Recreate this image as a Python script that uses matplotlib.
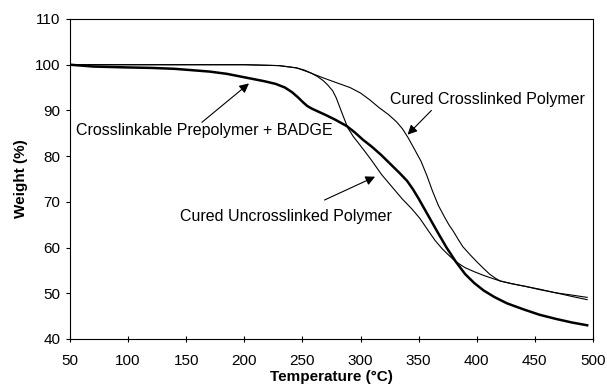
import matplotlib
matplotlib.use("Agg")
import matplotlib.pyplot as plt

plt.rcParams['font.family'] = ['Liberation Sans', 'DejaVu Sans']

# TGA curves
temp_badge = [50, 70, 100, 120, 140, 155, 170, 185, 197, 207, 217, 227, 235, 241, 246, 250,
              254, 258, 264, 270, 278, 288, 295, 302, 310, 318, 326, 334, 340, 345, 350, 358,
              366, 374, 382, 390, 398, 406, 415, 426, 440, 454, 468, 482, 495]
wt_badge = [100, 99.6, 99.4, 99.3, 99.1, 98.8, 98.5, 98.0, 97.4, 96.9, 96.4, 95.8, 95.0,
            94.0, 92.9, 91.9, 91.0, 90.4, 89.7, 89.0, 88.0, 86.6, 85.2, 83.6, 82.0, 80.2,
            78.2, 76.2, 74.6, 72.8, 70.7, 67.1, 63.5, 60.0, 56.9, 54.2, 52.2, 50.6, 49.2,
            47.8, 46.5, 45.3, 44.4, 43.6, 43.0]

temp_uncross = [50, 150, 200, 230, 245, 252, 258, 263, 268, 272, 276, 279, 282, 285, 289,
                294, 299, 305, 310, 318, 328, 336, 344, 351, 358, 364, 370, 376, 382, 390,
                398, 406, 414, 420, 430, 442, 454, 468, 482, 495]
wt_uncross = [100, 100, 100, 99.8, 99.3, 98.8, 98.1, 97.4, 96.5, 95.5, 94.3, 92.8, 90.8,
              88.8, 86.2, 84.2, 82.6, 80.6, 78.9, 76.0, 73.0, 70.6, 68.5, 66.4, 63.8, 61.6,
              59.8, 58.3, 56.9, 55.6, 54.7, 53.9, 53.2, 52.7, 52.1, 51.5, 50.9, 50.1, 49.3,
              48.6]

temp_cross = [50, 150, 200, 230, 245, 256, 267, 280, 291, 300, 308, 316, 324, 331, 336, 341,
              346, 352, 357, 362, 367, 372, 376, 380, 384, 388, 394, 400, 406, 411, 416, 420,
              430, 442, 454, 468, 482, 495]
wt_cross = [100, 100, 100, 99.8, 99.3, 98.3, 97.2, 96.0, 95.0, 93.8, 92.3, 90.6, 89.1, 87.5,
            86.0, 84.0, 81.7, 78.9, 75.8, 72.3, 69.2, 66.8, 65.0, 63.5, 61.8, 60.2, 58.5,
            56.9, 55.4, 54.2, 53.3, 52.7, 52.1, 51.5, 50.8, 50.1, 49.6, 49.1]

xticks = list(range(50, 501, 50))
yticks = list(range(40, 111, 10))

fig = plt.figure(figsize=(6.07, 3.90), dpi=100)
ax = fig.add_axes([0.1153, 0.1308, 0.8616, 0.8205])

ax.plot(temp_badge, wt_badge, color='black', lw=1.8)
ax.plot(temp_uncross, wt_uncross, color='black', lw=0.8)
ax.plot(temp_cross, wt_cross, color='black', lw=0.8)

arrow = dict(arrowstyle='-|>', color='black', lw=0.8, mutation_scale=14, shrinkA=0, shrinkB=0)
ax.annotate('', xy=(204, 95.9), xytext=(163.5, 87.4), arrowprops=arrow)
ax.text(166, 85.7, 'Crosslinkable Prepolymer + BADGE', ha='center', va='center', fontsize=11.5)
ax.annotate('', xy=(340.5, 84.7), xytext=(361, 90), arrowprops=arrow)
ax.text(409.5, 92.4, 'Cured Crosslinked Polymer', ha='center', va='center', fontsize=11.5)
ax.annotate('', xy=(312.5, 75.5), xytext=(269, 70.4), arrowprops=arrow)
ax.text(235.5, 66.8, 'Cured Uncrosslinked Polymer', ha='center', va='center', fontsize=11.5)

ax.set_xlim(50, 500)
ax.set_ylim(40, 110)
ax.set_xticks(xticks)
ax.set_yticks(yticks)
ax.tick_params(labelsize=11, width=0.8)
ax.tick_params(axis='x', direction='inout', length=5, pad=8)
ax.tick_params(axis='y', direction='out', length=3, pad=4)
ax.set_xlabel('Temperature (°C)', fontsize=11, fontweight='bold', labelpad=2)
ax.set_ylabel('Weight (%)', fontsize=11, fontweight='bold', labelpad=5)
for s in ax.spines.values():
    s.set_linewidth(0.8)

fig.savefig('out.png', dpi=100)
